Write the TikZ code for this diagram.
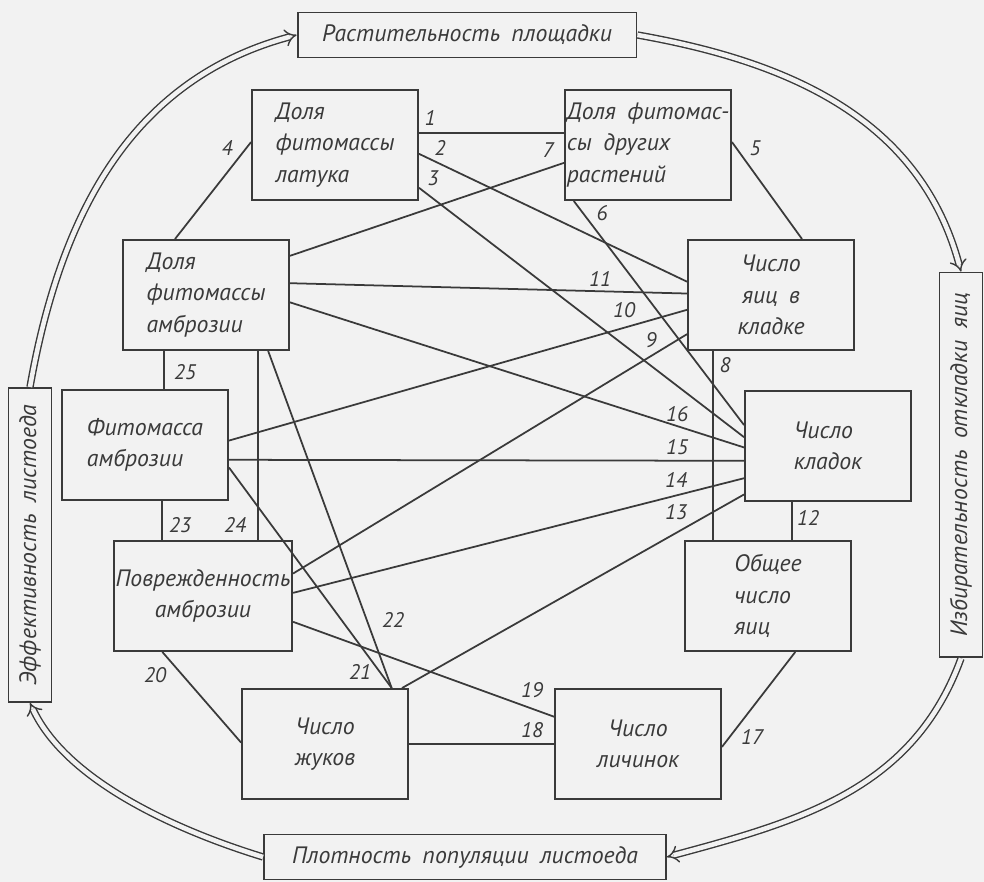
\documentclass[tikz,border=0pt]{standalone}
\usepackage{fontspec}
\setmainfont{PT Sans}[WordSpace=1.8]
\usetikzlibrary{arrows.meta}
\definecolor{ink}{HTML}{3A3A3A}
\definecolor{paper}{HTML}{F2F2F2}
\tikzset{
  box/.style={draw=ink, line width=1.1pt, minimum width=3.32cm, minimum height=2.2cm,
              inner sep=1pt, align=left, text=ink, font=\fontsize{13.5}{18}\selectfont\itshape},
  wide/.style={draw=ink, line width=1.1pt, inner sep=2pt, text=ink,
               font=\fontsize{13.5}{16}\selectfont\itshape},
  num/.style={text=ink, inner sep=1pt, font=\fontsize{12}{12}\selectfont\itshape},
  link/.style={draw=ink, line width=1pt},
  ring/.style={draw=ink, line width=0.8pt, double=paper, double distance=2.6pt, -{Implies}},
}
\begin{document}
\begin{tikzpicture}[x=0.02cm, y=0.02cm]
    % Paper:
    \fill[paper] (0,0) rectangle (984,882);
    \useasboundingbox (0,0) rectangle (984,882);

    % Outer frame boxes:
    \node[wide, minimum width=6.78cm, minimum height=0.9cm] (rast) at (467,847) {Растительность площадки};
    \node[wide, minimum width=8.04cm, minimum height=0.9cm] (plot) at (465,25) {Плотность популяции листоеда};
    \node[wide, rotate=90, minimum width=6.28cm, minimum height=0.86cm] (eff) at (30,337) {Эффективность листоеда};
    \node[wide, rotate=90, minimum width=7.7cm, minimum height=0.86cm] (izb) at (961,417) {Избирательность откладки яиц};

    % Inner boxes:
    \node[box] (lat) at (335,737) {Доля\\фитомассы\\латука};
    \node[box] (dr) at (648,737) {Доля фитомас-\\сы других\\растений};
    \node[box] (amb) at (206,587) {Доля\\фитомассы\\амброзии};
    \node[box] (fit) at (145,437) {Фитомасса\\амброзии};
    \node[box, align=center] (pov) at (203,286) {Поврежденность\\амброзии};
    \node[box, align=center] (zhuk) at (325,138) {Число\\жуков};
    \node[box, align=center] (lich) at (638,138) {Число\\личинок};
    \node[box] (ob) at (768,286) {Общее\\число\\яиц};
    \node[box] (kl) at (828,436) {Число\\кладок};
    \node[box, align=center] (yaic) at (771,587) {Число\\яиц в\\кладке};

    % Cycle:
    \draw[ring] (eff.east) to[out=80, in=195] (rast.west);
    \draw[ring] (rast.east) to[out=-10, in=105] (izb.east);
    \draw[ring] (izb.west) to[out=250, in=15] (plot.east);
    \draw[ring] (plot.west) to[out=163, in=-65, looseness=0.8] (eff.west);

    % Links 1--25:
    \draw[link] (lat.8) -- (dr.172);
    \draw[link] (lat.-6) -- (yaic.171);
    \draw[link] (lat.-27) -- (kl.174);
    \draw[link] (amb.119) -- (lat.178);
    \draw[link] (dr.2) -- (yaic.61);
    \draw[link] (dr.-143) -- (kl.166);
    \draw[link] (amb.25) -- (dr.192);
    \draw[link] (yaic.-136) -- (yaic.-136 |- ob.north);
    \draw[link] (pov.14) -- (yaic.-155);
    \draw[link] (fit.3) -- (yaic.-170);
    \draw[link] (amb.8) -- (yaic.179);
    \draw[link] (kl.-123) -- (kl.-123 |- ob.north);
    \draw[link] (zhuk.36) -- (kl.-150);
    \draw[link] (pov.2) -- (kl.-159);
    \draw[link] (fit.-10) -- (kl.-170);
    \draw[link] (amb.-5) -- (kl.-179);
    \draw[link] (ob.-64) -- (lich.-2);
    \draw[link] (zhuk.east) -- (lich.west);
    \draw[link] (pov.-16) -- (lich.162);
    \draw[link] (pov.-126) -- (zhuk.179);
    \draw[link] (fit.-15) -- (zhuk.40);
    \draw[link] (amb.-42) -- (zhuk.40);
    \draw[link] (fit.-73) -- (fit.-73 |- pov.north);
    \draw[link] (amb.-47) -- (amb.-47 |- pov.north);
    \draw[link] (amb.-127) -- (amb.-127 |- fit.north);

    % Numbers:
    \foreach \n/\x/\y in {1/430/764, 2/440/734, 3/433/704, 4/227/734, 5/755/734,
                          6/602/669, 7/548/732, 8/725/517, 9/651/542, 10/624/572,
                          11/600/603, 12/808/364, 13/676/370, 14/676/402, 15/677/435,
                          16/677/468, 17/752/145, 18/532/152, 19/532/192, 20/155/207,
                          21/360/210, 22/393/262, 23/180/357, 24/235/357, 25/185/510}
        \node[num] (n\n) at (\x,\y) {\n};
\end{tikzpicture}
\end{document}
